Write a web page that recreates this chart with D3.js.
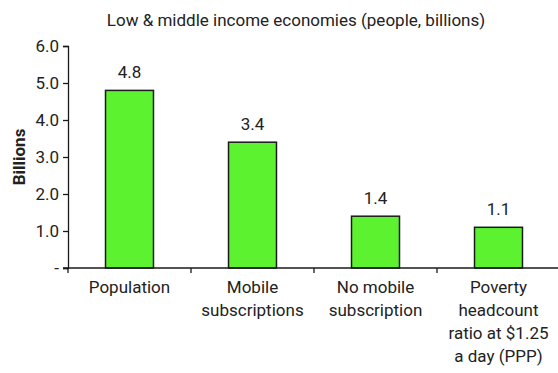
<!DOCTYPE html>
<html>
<head>
<meta charset="utf-8">
<script src="https://cdn.jsdelivr.net/npm/d3@7"></script>
<style>
  html, body { margin: 0; padding: 0; background: #fff; }
  svg { display: block; }
  text { font-family: "Roboto", "Liberation Sans", sans-serif; fill: #222; }
</style>
</head>
<body>
<svg id="chart" width="558" height="373"></svg>
<script>
// Low & middle income economies, people in billions
const categories = [
  ["Population"],
  ["Mobile", "subscriptions"],
  ["No mobile", "subscription"],
  ["Poverty", "headcount", "ratio at $1.25", "a day (PPP)"]
];
const values = [4.8, 3.4, 1.4, 1.1];
const yTicks = [0, 1, 2, 3, 4, 5, 6];
const yTickLabels = ["-", "1.0", "2.0", "3.0", "4.0", "5.0", "6.0"];

const svg = d3.select("#chart");
const margin = { left: 68, right: -2, top: 46, bottom: 105 };
const W = 558, H = 373;
const FS = 17;

const x = d3.scaleBand()
  .domain(d3.range(values.length))
  .range([margin.left, W - margin.right])
  .paddingInner(0.61)
  .paddingOuter(0.305);

const y = d3.scaleLinear().domain([0, 6]).range([H - margin.bottom, margin.top]);

// Bars
svg.append("g").selectAll("rect")
  .data(values)
  .join("rect")
  .attr("x", (d, i) => x(i))
  .attr("y", d => y(d))
  .attr("width", x.bandwidth())
  .attr("height", d => y(0) - y(d))
  .attr("fill", "#5df22f")
  .attr("stroke", "#1a1a1a")
  .attr("stroke-width", 1.5);

// Value labels
svg.append("g").selectAll("text")
  .data(values)
  .join("text")
  .attr("x", (d, i) => x(i) + x.bandwidth() / 2)
  .attr("y", d => y(d) - 12)
  .attr("text-anchor", "middle")
  .attr("font-size", FS)
  .text(d => d.toFixed(1));

// Y axis
const yAxis = svg.append("g")
  .attr("transform", `translate(${margin.left},0)`)
  .call(d3.axisLeft(y).tickValues(yTicks).tickFormat((d, i) => yTickLabels[i]).tickSize(5).tickPadding(4));
yAxis.select(".domain").attr("stroke", "#1a1a1a").attr("stroke-width", 1.3);
yAxis.selectAll(".tick line").attr("stroke", "#1a1a1a").attr("stroke-width", 1.3);
yAxis.selectAll(".tick text").attr("font-size", FS).attr("fill", "#222")
  .style("font-family", '"Roboto", sans-serif');

// X axis with category boundary ticks
const xBase = y(0);
const bounds = d3.range(values.length).map(i => x(i) - x.step() * x.paddingInner() / 2);
const xg = svg.append("g");
xg.append("line")
  .attr("x1", margin.left - 5).attr("x2", W)
  .attr("y1", xBase).attr("y2", xBase)
  .attr("stroke", "#1a1a1a").attr("stroke-width", 1.3);
xg.selectAll("line.b")
  .data(bounds)
  .join("line")
  .attr("class", "b")
  .attr("x1", d => d).attr("x2", d => d)
  .attr("y1", xBase).attr("y2", xBase + 5)
  .attr("stroke", "#1a1a1a").attr("stroke-width", 1.3);

// Category labels
const labels = svg.append("g").selectAll("text")
  .data(categories)
  .join("text")
  .attr("x", (d, i) => x(i) + x.bandwidth() / 2)
  .attr("y", xBase + 25)
  .attr("text-anchor", "middle")
  .attr("font-size", FS);
labels.each(function(lines, i) {
  d3.select(this).selectAll("tspan")
    .data(lines)
    .join("tspan")
    .attr("x", x(i) + x.bandwidth() / 2)
    .attr("dy", (d, j) => j === 0 ? 0 : 23)
    .text(d => d);
});

// Title
svg.append("text")
  .attr("x", 296).attr("y", 26)
  .attr("text-anchor", "middle")
  .attr("font-size", FS)
  .text("Low & middle income economies (people, billions)");

// Y axis title
svg.append("text")
  .attr("transform", `translate(25,157) rotate(-90)`)
  .attr("text-anchor", "middle")
  .attr("font-size", FS)
  .attr("font-weight", "bold")
  .text("Billions");
</script>
</body>
</html>
